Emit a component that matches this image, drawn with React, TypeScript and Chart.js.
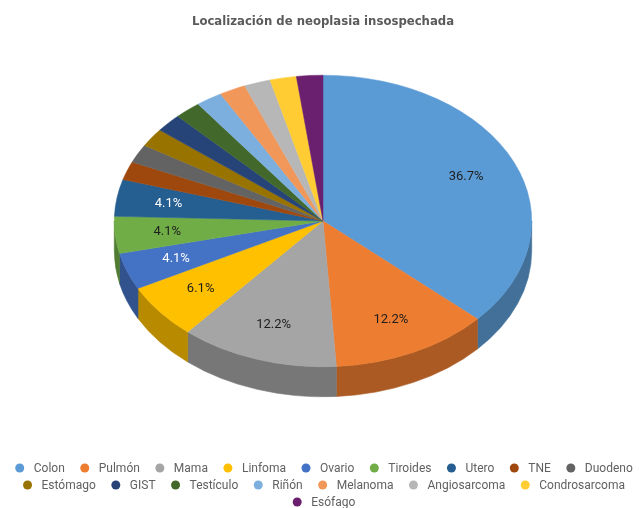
import React, { useEffect, useRef } from "react";
import { Chart, registerables } from "chart.js";

Chart.register(...registerables);

// ---- data ----
const titleText = "Localización de neoplasia insospechada";
const categories = [
  "Colon", "Pulmón", "Mama", "Linfoma", "Ovario", "Tiroides", "Utero", "TNE", "Duodeno",
  "Estómago", "GIST", "Testículo", "Riñón", "Melanoma", "Angiosarcoma", "Condrosarcoma", "Esófago",
];
const cases = [18, 6, 6, 3, 2, 2, 2, 1, 1, 1, 1, 1, 1, 1, 1, 1, 1];
const sliceColors = [
  "#5B9BD5", "#ED7D31", "#A5A5A5", "#FFC000", "#4472C4", "#70AD47", "#255E91", "#9E480E", "#636363",
  "#997300", "#264478", "#43682B", "#7CAFDD", "#F1975A", "#B7B7B7", "#FFCD33", "#6B1F6F",
];
const labelTextColors = [
  "#1e1e1e", "#1e1e1e", "#1e1e1e", "#1e1e1e", "#ffffff", "#1e1e1e", "#ffffff", "#ffffff", "#ffffff",
  "#ffffff", "#ffffff", "#ffffff", "#1e1e1e", "#1e1e1e", "#1e1e1e", "#1e1e1e", "#ffffff",
];

// ---- styling / layout ----
const TILT = 146 / 209;
const ELLIPSE_CY = 221;
const DEPTH = 30;
const LABEL_R = 0.75;
const LABEL_MIN_SHARE = 0.04;
const SIDE_SHADE = 0.72;

const LEGEND_TOP = 468;
const LEGEND_ROW_H = 17;
const LEGEND_MAX_W = 626;
const DOT_R = 4.5;
const DOT_TO_TEXT = 14;
const ITEM_GAP = 15.5;

function shade(hex: string, f: number) {
  const n = parseInt(hex.slice(1), 16);
  const r = Math.round(((n >> 16) & 255) * f);
  const g = Math.round(((n >> 8) & 255) * f);
  const b = Math.round((n & 255) * f);
  return `rgb(${r},${g},${b})`;
}
const sideColors = sliceColors.map((c) => shade(c, SIDE_SHADE));

const tiltPlugin = {
  id: "tilt3d",
  beforeDatasetsDraw(chart: any) {
    const arcs = chart.getDatasetMeta(0).data as any[];
    if (!arcs.length) return;
    const { x: cx, y: ay, outerRadius: rx } = arcs[0];
    const ry = rx * TILT;
    const ctx = chart.ctx;
    arcs.forEach((arc, i) => {
      const s = Math.max(arc.startAngle, 0);
      const e = Math.min(arc.endAngle, Math.PI);
      if (e <= s) return;
      ctx.beginPath();
      ctx.ellipse(cx, ELLIPSE_CY, rx, ry, 0, s, e, false);
      ctx.lineTo(cx + rx * Math.cos(e), ELLIPSE_CY + DEPTH + ry * Math.sin(e));
      ctx.ellipse(cx, ELLIPSE_CY + DEPTH, rx, ry, 0, e, s, true);
      ctx.closePath();
      ctx.fillStyle = sideColors[i];
      ctx.fill();
      ctx.strokeStyle = sideColors[i];
      ctx.lineWidth = 0.6;
      ctx.stroke();
    });
    ctx.save();
    ctx.translate(cx, ELLIPSE_CY);
    ctx.scale(1, TILT);
    ctx.translate(-cx, -ay);
  },
  afterDatasetsDraw(chart: any) {
    const ctx = chart.ctx;
    ctx.restore();
    const arcs = chart.getDatasetMeta(0).data as any[];
    if (!arcs.length) return;
    const values = chart.data.datasets[0].data as number[];
    const total = values.reduce((a, b) => a + b, 0);
    const { x: cx, outerRadius: rx } = arcs[0];
    const ry = rx * TILT;
    ctx.save();
    ctx.font = "13px Roboto";
    ctx.textAlign = "center";
    ctx.textBaseline = "middle";
    arcs.forEach((arc, i) => {
      const share = values[i] / total;
      if (share < LABEL_MIN_SHARE) return;
      const a = (arc.startAngle + arc.endAngle) / 2;
      const x = cx + rx * LABEL_R * Math.cos(a);
      const y = ELLIPSE_CY + ry * LABEL_R * Math.sin(a);
      ctx.fillStyle = labelTextColors[i];
      ctx.fillText((share * 100).toFixed(1) + "%", x, y);
    });
    ctx.restore();
  },
};

const legendPlugin = {
  id: "dotLegend",
  afterDraw(chart: any) {
    const ctx = chart.ctx;
    const labels = chart.data.labels as string[];
    const colors = chart.data.datasets[0].backgroundColor as string[];
    ctx.save();
    ctx.font = "12px Roboto";
    const items = labels.map((t, i) => ({ t, c: colors[i], w: DOT_R + DOT_TO_TEXT + ctx.measureText(t).width }));
    const rows: { items: typeof items; w: number }[] = [];
    items.forEach((it) => {
      const row = rows[rows.length - 1];
      if (row && row.w + ITEM_GAP + it.w <= LEGEND_MAX_W) {
        row.items.push(it);
        row.w += ITEM_GAP + it.w;
      } else {
        rows.push({ items: [it], w: it.w });
      }
    });
    const centerX = (chart.chartArea.left + chart.chartArea.right) / 2 + 1;
    ctx.textAlign = "left";
    ctx.textBaseline = "middle";
    rows.forEach((row, r) => {
      const y = LEGEND_TOP + r * LEGEND_ROW_H;
      let x = centerX - row.w / 2;
      row.items.forEach((it) => {
        ctx.beginPath();
        ctx.arc(x + DOT_R, y, DOT_R, 0, Math.PI * 2);
        ctx.fillStyle = it.c;
        ctx.fill();
        ctx.fillStyle = "#616161";
        ctx.fillText(it.t, x + DOT_R + DOT_TO_TEXT, y + 0.5);
        x += it.w + ITEM_GAP;
      });
    });
    ctx.restore();
  },
};

export default function App() {
  const ref = useRef<HTMLCanvasElement | null>(null);
  useEffect(() => {
    if (!ref.current) return;
    const chart = new Chart(ref.current, {
      type: "pie",
      data: {
        labels: categories,
        datasets: [
          {
            data: cases,
            backgroundColor: sliceColors,
            borderColor: sliceColors,
            borderWidth: 0.6,
            hoverOffset: 0,
            offset: 0,
            clip: false as any,
          },
        ],
      },
      options: {
        animation: false,
        responsive: false,
        events: [],
        layout: { padding: { left: 114, right: 107, top: 0, bottom: 0 } },
        plugins: {
          legend: { display: false },
          tooltip: { enabled: false },
          title: {
            display: true,
            text: titleText,
            color: "#5a5a5a",
            font: { family: "'DejaVu Sans'", size: 11.7, weight: "bold" },
            padding: { top: 15, bottom: 10 },
          },
        },
      },
      plugins: [tiltPlugin, legendPlugin],
    });
    return () => chart.destroy();
  }, []);
  return (
    <div style={{ position: "absolute", left: 0, top: 0, width: 639, height: 508, background: "#fff" }}>
      <canvas ref={ref} width={639} height={508} style={{ display: "block" }} />
    </div>
  );
}
